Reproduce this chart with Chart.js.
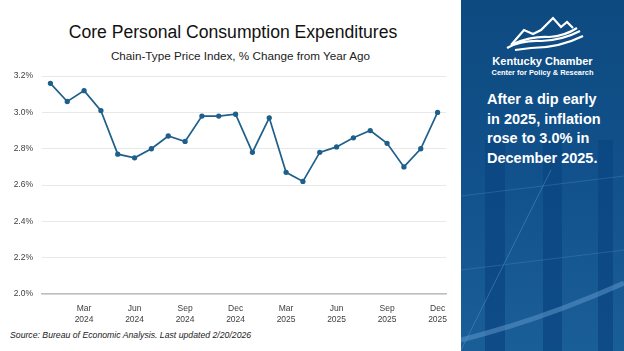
<!DOCTYPE html>
<html>
<head>
<meta charset="utf-8">
<script src="https://cdn.jsdelivr.net/npm/chart.js@4"></script>
<style>
  body { margin: 0; width: 624px; height: 351px; background: #fff; overflow: hidden; font-family: "Liberation Sans", Arial, sans-serif; position: relative; }
  #title { position: absolute; left: 0; width: 466px; top: 22px; text-align: center; font-size: 17.6px; color: #111; }
  #subtitle { position: absolute; left: 15px; width: 451px; top: 49px; text-align: center; font-size: 11.7px; color: #222; }
  #wrap { position: absolute; left: 0; top: 62px; width: 461px; height: 262px; }
  #source { position: absolute; left: 10px; top: 330px; font-size: 8.7px; font-style: italic; color: #222; }
  #panel { position: absolute; left: 461px; top: 0; width: 163px; height: 351px; overflow: hidden;
           background: linear-gradient(#0d4a80, #11508a 45%, #1a5e98); }
  #panel svg { position: absolute; left: 0; top: 0; }
  .org { position: absolute; left: 0; width: 163px; text-align: center; color: #fff; font-weight: bold; }
  #note { position: absolute; left: 26px; top: 90px; color: #fff; font-weight: bold; font-size: 14.5px; line-height: 19.7px; }
</style>
</head>
<body>
<div id="title">Core Personal Consumption Expenditures</div>
<div id="subtitle">Chain-Type Price Index, % Change from Year Ago</div>
<div id="wrap"><canvas id="pceChart" width="461" height="262"></canvas></div>
<div id="source">Source: Bureau of Economic Analysis. Last updated 2/20/2026</div>

<div id="panel">
  <svg width="163" height="351">
    <!-- background shapes -->
    <rect x="24" y="140" width="20" height="211" fill="#0a4580" opacity="0.7"/>
    <rect x="82" y="140" width="19" height="211" fill="#0a4580" opacity="0.7"/>
    <rect x="137" y="140" width="15" height="211" fill="#0a4580" opacity="0.7"/>
    <path d="M0 340 Q 80 320 163 283" stroke="#5b95c8" stroke-width="5" fill="none" opacity="0.55"/>
    <line x1="0" y1="350" x2="90" y2="170" stroke="#5b95c8" stroke-width="0.8" opacity="0.6"/>
    <line x1="0" y1="196" x2="163" y2="176" stroke="#5b95c8" stroke-width="0.6" opacity="0.5"/>
    <line x1="0" y1="270" x2="163" y2="250" stroke="#5b95c8" stroke-width="0.6" opacity="0.5"/>
    <!-- logo -->
    <g stroke="#fff" stroke-width="2.2" fill="none" stroke-linejoin="miter">
      <polyline points="50,45 63,30 72,34 80,30 92,18 100,27 106,22 112,28"/>
      <path d="M46 48 Q 60 40 80 41 Q 102 40 119 31"/>
      <path d="M52 44 Q 70 36 88 37 Q 104 36 116 28"/>
      <path d="M54 50 L 70 48 Q 98 48 122 36"/>
    </g>
  </svg>
  <div class="org" style="top: 55px; font-size: 11px;">Kentucky Chamber</div>
  <div class="org" style="top: 68px; font-size: 7.4px;">Center for Policy &amp; Research</div>
  <div id="note">After a dip early<br>in 2025, inflation<br>rose to 3.0% in<br>December 2025.</div>
</div>

<script>
const months = ["Jan", "Feb", "Mar", "Apr", "May", "Jun", "Jul", "Aug", "Sep", "Oct", "Nov", "Dec",
                "Jan", "Feb", "Mar", "Apr", "May", "Jun", "Jul", "Aug", "Sep", "Oct", "Nov", "Dec"];
const years = ["2024", "2024", "2024", "2024", "2024", "2024", "2024", "2024", "2024", "2024", "2024", "2024",
               "2025", "2025", "2025", "2025", "2025", "2025", "2025", "2025", "2025", "2025", "2025", "2025"];
const corePce = [3.16, 3.06, 3.12, 3.01, 2.77, 2.75, 2.80, 2.87, 2.84, 2.98, 2.98, 2.99,
                 2.78, 2.97, 2.67, 2.62, 2.78, 2.81, 2.86, 2.90, 2.83, 2.70, 2.80, 3.00];
const yTicks = [2.0, 2.2, 2.4, 2.6, 2.8, 3.0, 3.2];

const pceGraph = document.getElementById("pceChart");
const lineColor = '#1f5f8b';

const pceData = {
  labels: months.map((m, i) => m + ' ' + years[i]),
  datasets: [{
    data: corePce,
    borderColor: lineColor,
    backgroundColor: lineColor,
    borderWidth: 1.7,
    pointRadius: 1.8,
    pointHoverRadius: 1.8,
    tension: 0
  }]
}

const lineOptions = {
  responsive: false,
  animation: false,
  layout: { padding: { top: 10, right: 15, left: 0, bottom: 0 } },
  scales: {
    x: {
      offset: true,
      grid: { display: false },
      border: { display: true, color: '#bfbfbf', width: 1.5 },
      ticks: {
        autoSkip: false,
        maxRotation: 0,
        padding: 2,
        color: '#404040',
        font: { family: 'Liberation Sans', size: 8.5 },
        callback: (v, i) => i % 3 === 2 ? [months[i], years[i]] : ''
      },
      afterFit: axis => { axis.height = 30; }
    },
    y: {
      min: yTicks[0],
      max: yTicks[yTicks.length - 1],
      afterBuildTicks: axis => { axis.ticks = yTicks.map(v => ({ value: v })); },
      grid: { color: '#e8e8e8', drawTicks: false },
      border: { display: false },
      ticks: {
        padding: 9,
        color: '#404040',
        font: { family: 'Liberation Sans', size: 8.5 },
        callback: v => v.toFixed(1) + '%'
      },
      afterFit: axis => { axis.width = 42; }
    }
  },
  plugins: {
    legend: { display: false },
    tooltip: { enabled: false }
  }
}

let pce = new Chart(pceGraph, { type: 'line', data: pceData, options: lineOptions })
</script>
</body>
</html>
